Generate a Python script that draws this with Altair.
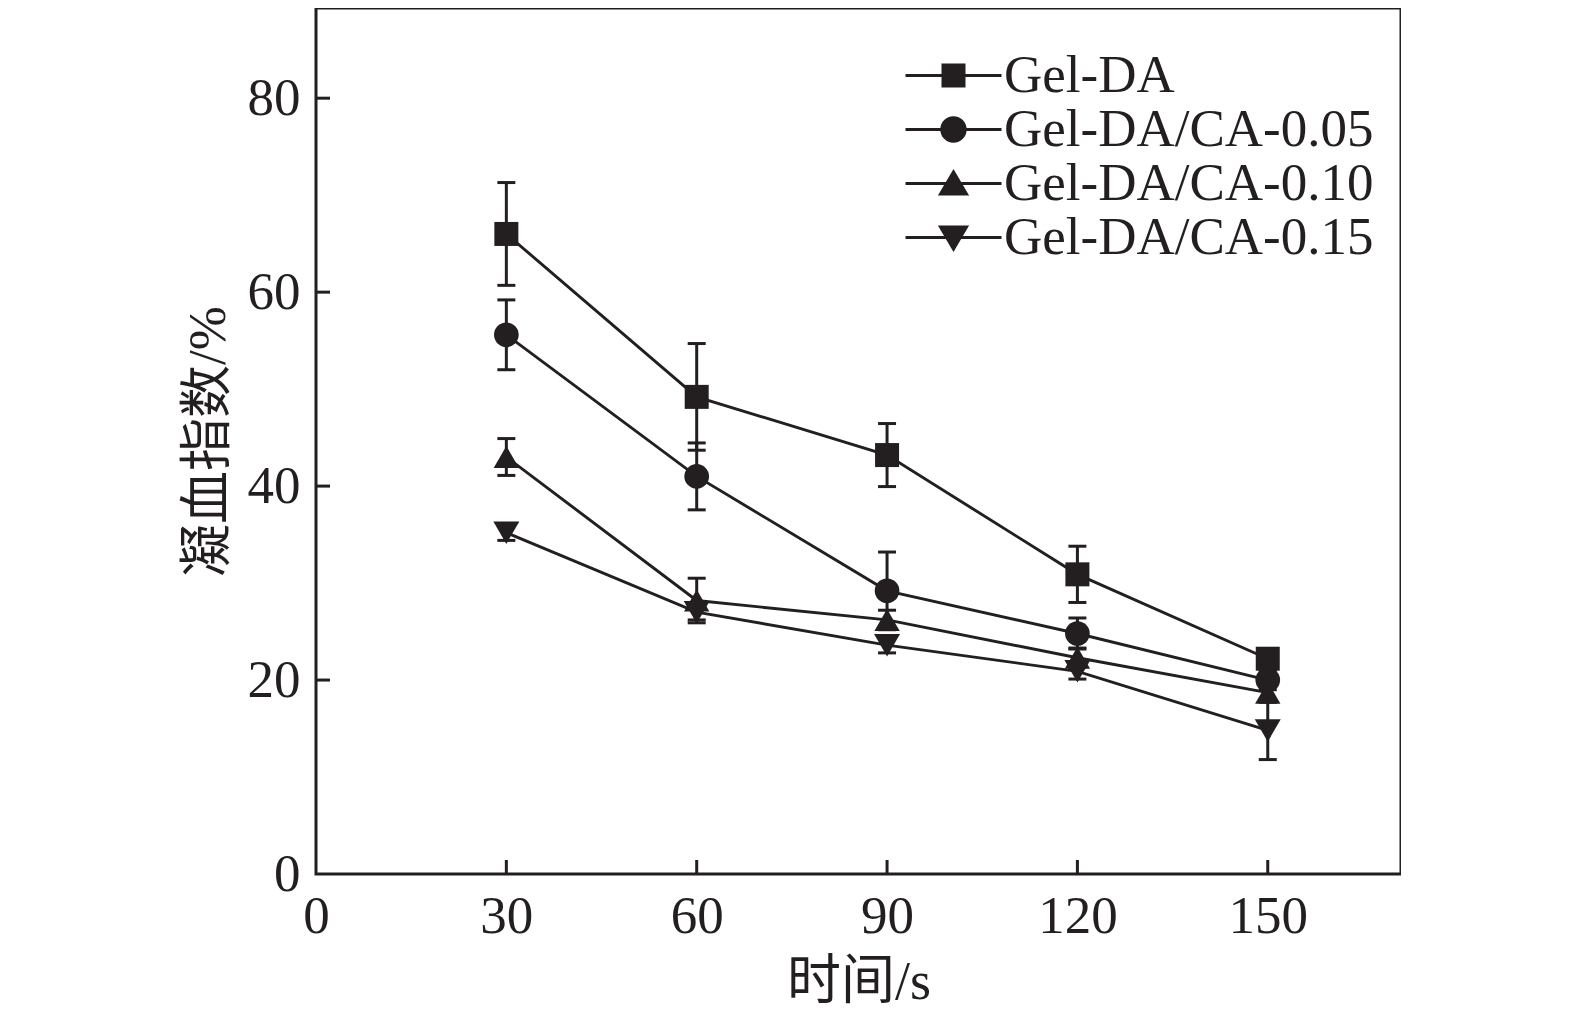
import altair as alt
import pandas as pd

# ---- data ----
time_s = [30, 60, 90, 120, 150]
series_names = ["Gel-DA", "Gel-DA/CA-0.05", "Gel-DA/CA-0.10", "Gel-DA/CA-0.15"]
gel_da = [66.0, 49.2, 43.2, 30.9, 22.2]
gel_da_err = [5.3, 5.5, 3.25, 2.9, 1.0]
ca_005 = [55.6, 41.0, 29.2, 24.8, 20.0]
ca_005_err = [3.6, 3.45, 4.0, 1.6, 1.0]
ca_010 = [43.0, 28.2, 26.2, 22.3, 18.7]
ca_010_err = [1.9, 2.3, 1.0, 1.0, 1.0]
ca_015 = [35.2, 27.0, 23.6, 20.9, 14.8]
ca_015_err = [0.8, 0.8, 0.8, 0.8, 3.0]
x_ticks = [0, 30, 60, 90, 120, 150]
y_ticks = [0, 20, 40, 60, 80]

rows = []
for name, vals, errs in zip(series_names,
                            [gel_da, ca_005, ca_010, ca_015],
                            [gel_da_err, ca_005_err, ca_010_err, ca_015_err]):
    for t, v, e in zip(time_s, vals, errs):
        rows.append({"series": name, "time": t, "value": v, "lo": v - e, "hi": v + e})
df = pd.DataFrame(rows)

# ---- styling ----
INK = "#231f20"
FONT = "Liberation Serif"
TITLE_FONT = "Liberation Serif, Noto Sans CJK SC"
W, H = 1085, 866
TICK = 14

xscale = alt.Scale(domain=[0, 171], nice=False, zero=False)
yscale = alt.Scale(domain=[0, 89.3], nice=False)

x_axis = alt.Axis(values=x_ticks, title="时间/s", labelFont=FONT, labelFontSize=53,
                  labelColor=INK, labelPadding=16, labelFlush=False, labelOverlap=False,
                  tickSize=0, domain=False, grid=False,
                  titleFont=TITLE_FONT, titleFontSize=54, titleFontWeight="normal",
                  titleColor=INK, titlePadding=12)
y_axis = alt.Axis(values=y_ticks, title="凝血指数/%", labelFont=FONT, labelFontSize=53,
                  labelColor=INK, labelPadding=16, labelFlush=False, labelOverlap=False,
                  tickSize=0, domain=False, grid=False,
                  titleFont=TITLE_FONT, titleFontSize=53, titleFontWeight="normal",
                  titleColor=INK, titlePadding=12)

X = alt.X("time:Q", scale=xscale, axis=x_axis)
Y = alt.Y("value:Q", scale=yscale, axis=y_axis)

base = alt.Chart(df)

err_v = base.mark_rule(color=INK, strokeWidth=3).encode(
    x=X, y=alt.Y("lo:Q", scale=yscale, axis=y_axis), y2="hi:Q")
cap_hi = base.mark_rule(color=INK, strokeWidth=3, xOffset=-9, x2Offset=9).encode(
    x=X, x2="time:Q", y=alt.Y("hi:Q", scale=yscale, axis=y_axis))
cap_lo = base.mark_rule(color=INK, strokeWidth=3, xOffset=-9, x2Offset=9).encode(
    x=X, x2="time:Q", y=alt.Y("lo:Q", scale=yscale, axis=y_axis))

lines = base.mark_line(color=INK, strokeWidth=2.9).encode(x=X, y=Y, detail="series:N")

points = base.mark_point(filled=True, opacity=1, color=INK).encode(
    x=X, y=Y,
    shape=alt.Shape("series:N", scale=alt.Scale(domain=series_names,
                    range=["square", "circle", "triangle-up", "triangle-down"]), legend=None),
    size=alt.Size("series:N", scale=alt.Scale(domain=series_names,
                  range=[576, 676, 900, 900]), legend=None),
)

# legend symbols: a short bar (the line) with the marker in its middle, all clockwise
legend_paths = [
    "M-4,-0.12H4V0.12H-4ZM-1,-1H1V1H-1Z",
    "M-4,-0.12H4V0.12H-4ZM-1.1,0A1.1,1.1 0 1,1 1.1,0A1.1,1.1 0 1,1 -1.1,0Z",
    "M-4,-0.12H4V0.12H-4ZM0,-1.2L1.3,1L-1.3,1Z",
    "M-4,-0.12H4V0.12H-4ZM-1.3,-1L1.3,-1L0,1.2Z",
]
legend_layer = base.mark_point(filled=True, fill=INK, opacity=0).encode(
    x=X, y=Y,
    shape=alt.Shape("series:N", scale=alt.Scale(domain=series_names, range=legend_paths),
                    legend=alt.Legend(title=None, orient="none", legendX=611, legendY=41,
                                      labelFont=FONT, labelFontSize=53, labelColor=INK,
                                      symbolSize=576, symbolFillColor=INK,
                                      symbolOpacity=1, labelOffset=24, rowPadding=0,
                                      padding=0, labelLimit=1000)),
)

x_tick_marks = alt.Chart(pd.DataFrame({"time": x_ticks[1:]})).mark_rule(
    color=INK, strokeWidth=3).encode(x=X, y=alt.value(H), y2=alt.value(H - TICK))
y_tick_marks = alt.Chart(pd.DataFrame({"value": y_ticks[1:]})).mark_rule(
    color=INK, strokeWidth=3).encode(y=Y, x=alt.value(0), x2=alt.value(TICK))

chart = alt.layer(
    x_tick_marks, y_tick_marks, err_v, cap_hi, cap_lo, lines, points, legend_layer
).resolve_scale(shape="independent").properties(
    width=W, height=H,
    padding={"left": 174, "top": 0, "right": 0, "bottom": 0},
    background="white",
).configure_view(stroke=INK, strokeWidth=3)

chart.save("out.html", embed_options={"renderer": "svg", "actions": False})
